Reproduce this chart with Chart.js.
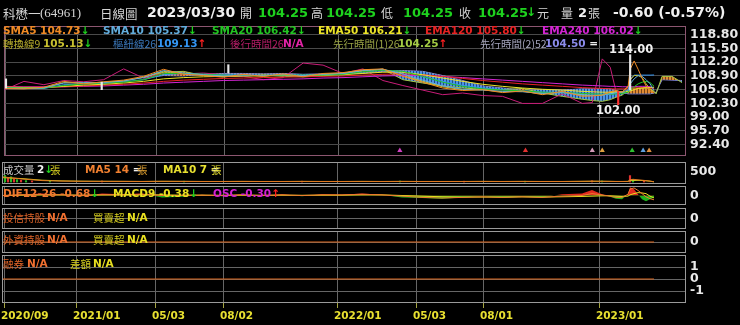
<!DOCTYPE html>
<html>
<head>
<meta charset="utf-8">
<script src="https://cdn.jsdelivr.net/npm/chart.js@4.4.0/dist/chart.umd.min.js"></script>
<style>
body { margin: 0; background: #000; width: 740px; height: 325px; overflow: hidden; position: relative; }
canvas { position: absolute; left: 0; }
.t { position: absolute; white-space: nowrap; line-height: 1; font: bold 10.5px "DejaVu Sans", sans-serif; }
.c { font-family: "Noto Sans CJK TC", sans-serif; font-weight: normal; }
.g { color: #1ed21e; }
.r { color: #ff2020; }
.w { color: #f0f0f0; }
</style>
</head>
<body>
<canvas id="cMain" width="740" height="138" style="top:22px"></canvas>
<canvas id="cVol" width="740" height="22" style="top:162px"></canvas>
<canvas id="cMacd" width="740" height="19" style="top:186px"></canvas>
<canvas id="cInv" width="740" height="21" style="top:208px"></canvas>
<canvas id="cFi" width="740" height="22" style="top:231px"></canvas>
<canvas id="cShort" width="740" height="70" style="top:255px"></canvas>

<!-- header -->
<span class="t c" style="left:3px;top:4px;font-size:12.5px;color:#d4d4d4">科懋一</span>
<span class="t" style="left:40px;top:5px;font:13px 'Liberation Serif';color:#d4d4d4">(64961)</span>
<span class="t c" style="left:100px;top:4px;font-size:12.5px;color:#d4d4d4">日線圖</span>
<span class="t w" style="left:147px;top:4px;font-size:14px">2023/03/30</span>
<span class="t c" style="left:240px;top:4px;font-size:12px;color:#d4d4d4">開</span>
<span class="t g" style="left:258px;top:5px;font-size:13px">104.25</span>
<span class="t c" style="left:311px;top:4px;font-size:12px;color:#d4d4d4">高</span>
<span class="t g" style="left:326px;top:5px;font-size:13px">104.25</span>
<span class="t c" style="left:381px;top:4px;font-size:12px;color:#d4d4d4">低</span>
<span class="t g" style="left:403px;top:5px;font-size:13px">104.25</span>
<span class="t c" style="left:459px;top:4px;font-size:12px;color:#d4d4d4">收</span>
<span class="t g" style="left:478px;top:5px;font-size:13px">104.25</span>
<span class="t g" style="left:526px;top:5px;font-size:12px">↓</span>
<span class="t c" style="left:537px;top:4px;font-size:12px;color:#d4d4d4">元</span>
<span class="t c" style="left:561px;top:4px;font-size:12px;color:#d4d4d4">量</span>
<span class="t w" style="left:578px;top:5px;font-size:13px">2</span>
<span class="t c" style="left:588px;top:4px;font-size:12px;color:#d4d4d4">張</span>
<span class="t w" style="left:613px;top:4px;font-size:14px">-0.60 (-0.57%)</span>

<!-- moving average legend -->
<span class="t" style="left:3px;top:24px;color:#f08a24">SMA5 104.73<span class="g">↓</span></span>
<span class="t" style="left:103px;top:24px;color:#62acdc">SMA10 105.37<span class="g">↓</span></span>
<span class="t" style="left:212px;top:24px;color:#22c422">SMA20 106.42<span class="g">↓</span></span>
<span class="t" style="left:318px;top:24px;color:#ece428">EMA50 106.21<span class="g">↓</span></span>
<span class="t" style="left:425px;top:24px;color:#e82222">EMA120 105.80<span class="g">↓</span></span>
<span class="t" style="left:542px;top:24px;color:#d424d4">EMA240 106.02<span class="g">↓</span></span>

<!-- ichimoku legend -->
<span class="t c" style="left:3px;top:36px;color:#b4aa2c">轉換線9</span>
<span class="t" style="left:43px;top:37px;color:#c8c030">105.13<span class="g">↓</span></span>
<span class="t c" style="left:113px;top:36px;color:#3a76b8">樞紐線26</span>
<span class="t" style="left:157px;top:37px;color:#3496f4">109.13<span class="r">↑</span></span>
<span class="t c" style="left:230px;top:36px;color:#b41c66">後行時間26</span>
<span class="t" style="left:283px;top:37px;color:#e424a8">N/A</span>
<span class="t c" style="left:333px;top:36px;color:#98a244">先行時間(1)26</span>
<span class="t" style="left:398px;top:37px;color:#a4cc44">104.25<span class="r">↑</span></span>
<span class="t c" style="left:480px;top:36px;color:#a4a4bc">先行時間(2)52</span>
<span class="t" style="left:545px;top:37px;color:#8c8cec">104.50 <span class="w">=</span></span>

<!-- volume legend -->
<span class="t c" style="left:3px;top:162px;color:#c8c8c8">成交量</span>
<span class="t w" style="left:37px;top:163px">2<span class="g">↓</span></span>
<span class="t c" style="left:50px;top:162px;color:#d8d020">張</span>
<span class="t" style="left:85px;top:163px;color:#f08030">MA5 14 <span class="w">=</span></span>
<span class="t c" style="left:137px;top:162px;color:#e0a030">張</span>
<span class="t" style="left:163px;top:163px;color:#e8e030">MA10 7 <span class="w">=</span></span>
<span class="t c" style="left:211px;top:162px;color:#e8e030">張</span>

<!-- macd legend -->
<span class="t" style="left:3px;top:187px;color:#f07830">DIF12-26 -0.68<span class="g">↓</span></span>
<span class="t" style="left:113px;top:187px;color:#e8e020">MACD9 -0.38<span class="g">↓</span></span>
<span class="t" style="left:213px;top:187px;color:#d420d4">OSC -0.30<span class="r">↑</span></span>

<!-- lower panels -->
<span class="t c" style="left:3px;top:210px;color:#e06428">投信持股</span>
<span class="t" style="left:47px;top:211px;color:#f07030">N/A</span>
<span class="t c" style="left:93px;top:210px;color:#d8d020">買賣超</span>
<span class="t" style="left:127px;top:211px;color:#e8e020">N/A</span>
<span class="t c" style="left:3px;top:232px;color:#e06428">外資持股</span>
<span class="t" style="left:47px;top:233px;color:#f07030">N/A</span>
<span class="t c" style="left:93px;top:232px;color:#d8d020">買賣超</span>
<span class="t" style="left:127px;top:233px;color:#e8e020">N/A</span>
<span class="t c" style="left:3px;top:256px;color:#e06428">融券</span>
<span class="t" style="left:27px;top:257px;color:#f07030">N/A</span>
<span class="t c" style="left:70px;top:256px;color:#d8d020">差額</span>
<span class="t" style="left:93px;top:257px;color:#e8e020">N/A</span>

<script>
// ---- axis ----
const tickDays = [2, 74, 153, 221, 335, 414, 481, 597];
const tickLabels = ['2020/09', '2021/01', '05/03', '08/02', '2022/01', '05/03', '08/01', '2023/01'];
const priceTicks = [92.40, 95.70, 99.00, 102.30, 105.60, 108.90, 112.20, 115.50, 118.80];

// sample days (bar index) for the line series
const days = [0, 20, 40, 60, 80, 100, 120, 140, 160, 180, 200, 220, 240, 260, 280, 300, 320, 340, 360, 380,
  400, 420, 440, 460, 480, 500, 520, 540, 560, 580, 590, 600, 608, 614, 620, 626, 628, 632, 636, 640,
  644, 648, 652, 654, 660, 670, 680];

// ---- price panel ----
const sma5 = [105.9, 105.8, 106.2, 107.6, 107.0, 107.5, 107.9, 108.8, 110.5, 109.3, 109.0, 108.6, 109.3, 108.8, 109.4, 108.7, 109.5, 109.7, 110.4, 110.6,
  108.8, 107.4, 106.0, 105.4, 105.6, 104.9, 105.3, 104.4, 105.2, 104.0, 104.1, 104.3, 105.1, 105.4, 105.0, 106.5, 110.5, 112.5, 110.5, 108.3,
  106.5, 105.3, 104.73, null, null, null, null];
const sma10 = [106.0, 105.9, 106.0, 107.2, 107.3, 107.3, 107.7, 108.5, 110.2, 109.6, 109.2, 108.9, 109.1, 109.0, 109.2, 109.0, 109.3, 109.5, 110.2, 110.5,
  109.4, 107.9, 106.5, 105.7, 105.5, 105.2, 105.1, 104.7, 104.9, 104.4, 104.2, 104.3, 104.6, 104.9, 105.0, 105.6, 107.0, 108.2, 109.0, 108.8,
  108.0, 107.0, 105.37, null, null, null, null];
const sma20 = [106.1, 106.0, 106.0, 106.6, 107.0, 107.2, 107.4, 108.0, 109.5, 109.5, 109.3, 109.1, 109.0, 109.0, 109.1, 109.1, 109.1, 109.3, 109.9, 110.3,
  110.0, 108.8, 107.4, 106.4, 105.8, 105.5, 105.3, 105.0, 104.9, 104.7, 104.6, 104.5, 104.5, 104.6, 104.7, 105.0, 105.5, 106.3, 107.0, 107.4,
  107.6, 107.3, 106.42, null, null, null, null];
const ema50 = [106.2, 106.1, 106.1, 106.4, 106.7, 106.9, 107.2, 107.6, 108.2, 108.5, 108.7, 108.8, 108.9, 108.9, 109.0, 109.0, 109.1, 109.2, 109.5, 109.8,
  109.8, 109.2, 108.4, 107.6, 106.9, 106.4, 106.0, 105.7, 105.5, 105.2, 105.1, 105.0, 105.0, 105.0, 105.0, 105.1, 105.3, 105.6, 105.9, 106.0,
  106.1, 106.1, 106.21, null, null, null, null];
const ema120 = [106.3, 106.2, 106.2, 106.3, 106.5, 106.7, 106.9, 107.2, 107.6, 107.9, 108.1, 108.3, 108.4, 108.5, 108.6, 108.7, 108.8, 108.9, 109.1, 109.3,
  109.4, 109.2, 108.8, 108.3, 107.8, 107.4, 107.0, 106.7, 106.4, 106.1, 106.0, 105.9, 105.8, 105.8, 105.8, 105.8, 105.9, 106.0, 106.0, 106.1,
  106.1, 106.0, 105.80, null, null, null, null];
const ema240 = [106.4, 106.3, 106.3, 106.3, 106.4, 106.5, 106.7, 106.9, 107.2, 107.4, 107.6, 107.8, 107.9, 108.0, 108.1, 108.2, 108.4, 108.5, 108.7, 108.9,
  109.0, 109.0, 108.8, 108.5, 108.2, 107.9, 107.6, 107.3, 107.0, 106.7, 106.6, 106.5, 106.4, 106.4, 106.3, 106.3, 106.3, 106.3, 106.4, 106.4,
  106.4, 106.3, 106.02, null, null, null, null];
const tenkan = [105.9, 105.9, 106.1, 107.3, 107.2, 107.4, 107.7, 108.6, 110.0, 109.5, 109.2, 108.8, 109.1, 108.9, 109.2, 108.9, 109.3, 109.6, 110.2, 110.5,
  109.0, 107.6, 106.3, 105.6, 105.6, 105.1, 105.2, 104.6, 105.0, 104.3, 104.2, 104.3, 104.9, 105.2, 105.1, 106.2, 108.0, 109.0, 109.0, 108.5,
  107.0, 105.8, 105.13, null, null, null, null];
const kijun = [106.0, 105.9, 105.9, 106.8, 107.0, 107.1, 107.5, 108.0, 109.2, 109.5, 109.3, 109.2, 109.1, 109.0, 109.1, 109.1, 109.2, 109.4, 109.8, 110.2,
  110.0, 108.8, 107.6, 106.6, 106.0, 105.6, 105.3, 105.0, 104.9, 104.7, 104.6, 104.5, 104.5, 104.7, 104.8, 105.0, 108.0, 109.1, 109.1, 109.1,
  109.1, 109.1, 109.13, null, null, null, null];
const chikou = [105.5, 107.6, 106.8, 107.8, 107.5, 108.0, 110.6, 108.4, 109.5, 109.4, 109.6, 109.2, 108.8, 108.0, 108.5, 112.0, 111.5, 109.5, 110.6, 107.8,
  106.6, 105.5, 104.4, 104.8, 104.2, 104.0, 102.3, 102.3, 104.6, 102.3, 102.5, 113.0, 111.0, 105.0, 105.2, null, null, null, null, null,
  null, null, null, null, null, null, null];
const spanA = [null, null, null, null, null, null, null, 108.6, 109.8, 110.0, 109.0, 108.9, 108.8, 109.2, 108.8, 108.7, 108.9, 109.5, 110.3, 110.5,
  108.0, 107.2, 106.5, 106.0, 105.7, 105.6, 105.9, 104.8, 104.0, 103.3, 103.0, 102.8, 103.2, 103.8, 104.3, 105.5, 106.0, 106.0, 106.0, 106.0,
  106.0, 105.8, 105.2, 104.6, 108.8, 108.8, 107.3];
const spanB = [null, null, null, null, null, null, null, 108.4, 109.0, 108.9, 109.3, 109.5, 109.5, 109.4, 109.5, 109.3, 109.4, 109.4, 109.6, 110.0,
  110.2, 110.0, 109.0, 107.8, 106.5, 106.0, 105.5, 105.6, 105.5, 105.8, 105.8, 105.9, 105.8, 105.4, 104.9, 104.6, 104.6, 104.6, 104.6, 104.6,
  104.6, 104.6, 104.8, 105.0, 108.0, 107.9, 107.8];

// a few long candles that stand out
const wickDays = [2, 98, 225, 616, 628];
const wickLow = [106.0, 105.6, 109.6, 102.0, 105.5];
const wickHigh = [108.2, 107.4, 111.6, 105.2, 114.0];
const hiDay = 629, hiPrice = 114.00;
const loDay = 616, loPrice = 102.00;

// signal marks at the bottom of the price panel
const signalDays = [397, 523, 590, 600, 630, 641, 647];
const signalLevel = 91.0;

// ---- volume panel ----
const volDays = [3, 6, 9, 12, 15, 19, 24, 30, 48, 100, 182, 300, 398, 462, 523, 590, 600, 628, 631, 642];
const volume = [330, 180, 260, 150, 120, 90, 70, 50, 40, 50, 40, 40, 50, 40, 40, 60, 50, 320, 140, 70];
const volMa5 = [260, 150, 70, 45, 35, 30, 30, 25, 35, 30, 25, 25, 30, 25, 25, 30, 25, 25, 30, 25,
  30, 25, 25, 25, 30, 25, 30, 25, 25, 35, 40, 35, 30, 25, 25, 30, 120, 130, 110, 90,
  70, 45, 14, null, null, null, null];
const volMa10 = [220, 170, 90, 55, 40, 35, 32, 28, 32, 30, 27, 26, 28, 26, 26, 28, 26, 26, 28, 26,
  28, 26, 26, 26, 28, 26, 28, 26, 26, 30, 35, 35, 32, 28, 27, 28, 70, 75, 80, 75,
  60, 40, 7, null, null, null, null];

// ---- macd panel ----
const osc = [0.0, 0.2, 0.3, 0.1, -0.1, 0.3, 0.2, 0.3, -0.3, -0.2, 0.1, -0.1, 0.2, -0.1, 0.2, -0.1, 0.2, 0.1, 0.3, 0.1,
  -0.3, -0.4, -0.5, -0.3, -0.1, -0.4, -0.2, -0.3, 0.2, 0.3, 0.85, 0.2, -0.2, -0.5, -0.6, 0.2, 1.3, 1.0, 0.2, -0.6,
  -0.9, -0.6, -0.30, null, null, null, null];
const dif = [0.0, 0.1, 0.15, 0.1, 0.0, 0.15, 0.1, 0.2, 0.0, 0.0, 0.05, 0.0, 0.1, 0.0, 0.1, 0.0, 0.1, 0.1, 0.2, 0.1,
  -0.1, -0.3, -0.4, -0.3, -0.2, -0.3, -0.2, -0.3, -0.1, 0.0, 0.3, 0.1, -0.1, -0.3, -0.3, 0.2, 1.0, 1.2, 0.8, 0.3,
  -0.2, -0.5, -0.68, null, null, null, null];
const macd = [0.0, 0.05, 0.1, 0.1, 0.05, 0.08, 0.1, 0.12, 0.1, 0.05, 0.05, 0.03, 0.05, 0.03, 0.05, 0.03, 0.05, 0.05, 0.1, 0.1,
  0.0, -0.1, -0.2, -0.25, -0.25, -0.25, -0.22, -0.25, -0.2, -0.15, -0.1, -0.05, -0.05, -0.1, -0.15, -0.1, 0.1, 0.3, 0.45, 0.4,
  0.3, -0.1, -0.38, null, null, null, null];

// ---- holdings / short panels (no data, flat) ----
const holdDays = [0, 652];
const foreignHold = [0, 0];
const shortBalance = [0, 0];


Chart.defaults.font.family = 'DejaVu Sans';
Chart.defaults.animation = false;
Chart.defaults.events = [];
Chart.defaults.plugins.legend.display = false;
Chart.defaults.plugins.tooltip.enabled = false;
Chart.defaults.elements.point.radius = 0;
Chart.defaults.elements.line.borderWidth = 1;

function panelBorder(color) {
    return {
        id: 'panelBorder',
        afterDraw(chart) {
            const a = chart.chartArea, ctx = chart.ctx;
            ctx.save();
            ctx.strokeStyle = color;
            ctx.lineWidth = 1;
            ctx.strokeRect(a.left + 0.5, a.top + 0.5, a.width - 1, a.height - 1);
            ctx.restore();
        }
    };
}

function xScale(showLabels) {
    return {
        type: 'linear', min: 0, max: 684, offset: false,
        afterBuildTicks: s => { s.ticks = tickDays.map(v => ({ value: v })); },
        afterFit: s => { s.height = showLabels ? 22 : 0; s.paddingLeft = 0; s.paddingRight = 0; },
        grid: { color: '#666666', lineWidth: 1, offset: false, drawTicks: showLabels, tickLength: 5, tickColor: '#a4a440' },
        border: { display: false },
        ticks: {
            display: showLabels, autoSkip: false, maxRotation: 0, align: 'start', labelOffset: -3, padding: 2,
            color: '#e8e030', font: { weight: 'bold', size: 10.5 },
            callback: (v, i) => tickLabels[i]
        }
    };
}

function yScale(min, max, ticks, gridColor, fmt) {
    return {
        position: 'right', min: min, max: max,
        afterBuildTicks: s => { s.ticks = ticks.map(v => ({ value: v })); },
        afterFit: s => { s.width = 54; s.paddingTop = 0; s.paddingBottom = 0; },
        grid: { display: !!gridColor, color: gridColor || 'transparent', drawTicks: false },
        border: { display: false },
        ticks: { autoSkip: false, padding: 4, color: '#e8e8e8', font: { weight: 'bold', size: 12.5 }, callback: fmt || (v => String(v)) }
    };
}

function line(label, data, color, order) {
    return { type: 'line', label: label, data: data, borderColor: color, order: order || 1 };
}

// striped cloud, like the hatched kumo
function stripes(ctx, c1, c2) {
    const p = document.createElement('canvas');
    p.width = 3; p.height = 1;
    const g = p.getContext('2d');
    g.fillStyle = c2; g.fillRect(0, 0, 3, 1);
    g.fillStyle = c1; g.fillRect(0, 0, 2, 1);
    return ctx.createPattern(p, 'repeat');
}

const mainCanvas = document.getElementById('cMain');
const mctx = mainCanvas.getContext('2d');
const cloudUp = stripes(mctx, '#e08a34', '#7a4618');
const cloudDown = stripes(mctx, '#4c92e4', '#1e4c86');

const markLabels = {
    id: 'markLabels',
    afterDatasetsDraw(chart) {
        const ctx = chart.ctx, x = chart.scales.x, y = chart.scales.y;
        ctx.save();
        ctx.font = 'bold 11.5px "DejaVu Sans"';
        ctx.fillStyle = '#f0f0f0';
        ctx.textAlign = 'center';
        ctx.textBaseline = 'bottom';
        ctx.fillText(hiPrice.toFixed(2), x.getPixelForValue(hiDay), y.getPixelForValue(hiPrice) + 1);
        ctx.textBaseline = 'top';
        ctx.fillText(loPrice.toFixed(2), x.getPixelForValue(loDay), y.getPixelForValue(loPrice) + 1);
        ctx.restore();
    }
};

new Chart(mainCanvas, {
    type: 'line',
    data: {
        labels: days,
        datasets: [
            { label: '先行時間(1)', data: spanA, borderColor: '#a4c844', order: 5,
              fill: { target: '+1', above: cloudUp, below: cloudDown } },
            { label: '先行時間(2)', data: spanB, borderColor: '#8c8cec', order: 5 },
            line('SMA5', sma5, '#f08a24'),
            line('SMA10', sma10, '#62acdc'),
            line('SMA20', sma20, '#22c422'),
            line('EMA50', ema50, '#ece428'),
            line('EMA120', ema120, '#e82222'),
            line('EMA240', ema240, '#d424d4'),
            line('轉換線', tenkan, '#c8c030'),
            line('樞紐線', kijun, '#3496f4'),
            line('後行時間', chikou, '#c81c78', 2),
            { type: 'bar', label: 'K', data: wickDays.map((d, i) => ({ x: d, y: [wickLow[i], wickHigh[i]] })),
              backgroundColor: ['#e8e8e8', '#e8e8e8', '#e8e8e8', '#ff3030', '#e8e8e8'], barThickness: 1.5, order: 0 },
            { type: 'line', label: 'signal', data: signalDays.map(d => ({ x: d, y: signalLevel })), showLine: false,
              pointStyle: 'triangle', pointRadius: 3, pointBorderWidth: 0, order: 0,
              pointBackgroundColor: ['#d040c0', '#e03030', '#d49ab8', '#e0a040', '#30c030', '#60a0e0', '#e09040'] }
        ]
    },
    options: {
        responsive: false,
        layout: { padding: { left: 2, right: 0, top: 0, bottom: 0 } },
        scales: {
            x: xScale(false),
            y: yScale(89.67, 120.9, priceTicks, '#4a4a4a', v => v.toFixed(2))
        }
    },
    plugins: [panelBorder('#8c5670'), markLabels]
});

new Chart(document.getElementById('cVol'), {
    type: 'line',
    data: {
        labels: days,
        datasets: [
            line('MA5', volMa5, '#e07820'),
            line('MA10', volMa10, '#cccc24'),
            { type: 'bar', label: '成交量', data: volDays.map((d, i) => ({ x: d, y: volume[i] })), barThickness: 1.5,
              backgroundColor: volDays.map((d, i) => i % 2 ? '#e03030' : '#28b828'), order: 2 }
        ]
    },
    options: {
        responsive: false,
        layout: { padding: { left: 2 } },
        scales: { x: xScale(false), y: yScale(-100, 1000, [500]) }
    },
    plugins: [panelBorder('#9a9a9a')]
});

new Chart(document.getElementById('cMacd'), {
    type: 'line',
    data: {
        labels: days,
        datasets: [
            { label: 'OSC', data: osc, borderWidth: 0, borderColor: 'transparent', order: 3,
              fill: { target: 'origin', above: '#e02a1e', below: '#1eb41e' } },
            line('DIF', dif, '#f07830'),
            line('MACD', macd, '#e8e020')
        ]
    },
    options: {
        responsive: false,
        layout: { padding: { left: 2 } },
        scales: { x: xScale(false), y: yScale(-1.5, 1.5, [0]) }
    },
    plugins: [panelBorder('#9a9a9a')]
});

new Chart(document.getElementById('cInv'), {
    type: 'line',
    data: { labels: days, datasets: [] },
    options: {
        responsive: false,
        layout: { padding: { left: 2 } },
        scales: { x: xScale(false), y: yScale(-1, 1, [0], '#666666') }
    },
    plugins: [panelBorder('#9a9a9a')]
});

new Chart(document.getElementById('cFi'), {
    type: 'line',
    data: {
        datasets: [line('外資持股', holdDays.map((d, i) => ({ x: d, y: foreignHold[i] })), '#d8641c')]
    },
    options: {
        responsive: false,
        layout: { padding: { left: 2 } },
        scales: { x: xScale(false), y: yScale(-1, 1, [0], '#666666') }
    },
    plugins: [panelBorder('#9a9a9a')]
});

new Chart(document.getElementById('cShort'), {
    type: 'line',
    data: {
        datasets: [line('融券', holdDays.map((d, i) => ({ x: d, y: shortBalance[i] })), '#d8641c')]
    },
    options: {
        responsive: false,
        layout: { padding: { left: 2 } },
        scales: { x: xScale(true), y: yScale(-2, 2, [-1, 0, 1], '#666666') }
    },
    plugins: [panelBorder('#9a9a9a')]
});
</script>
</body>
</html>
